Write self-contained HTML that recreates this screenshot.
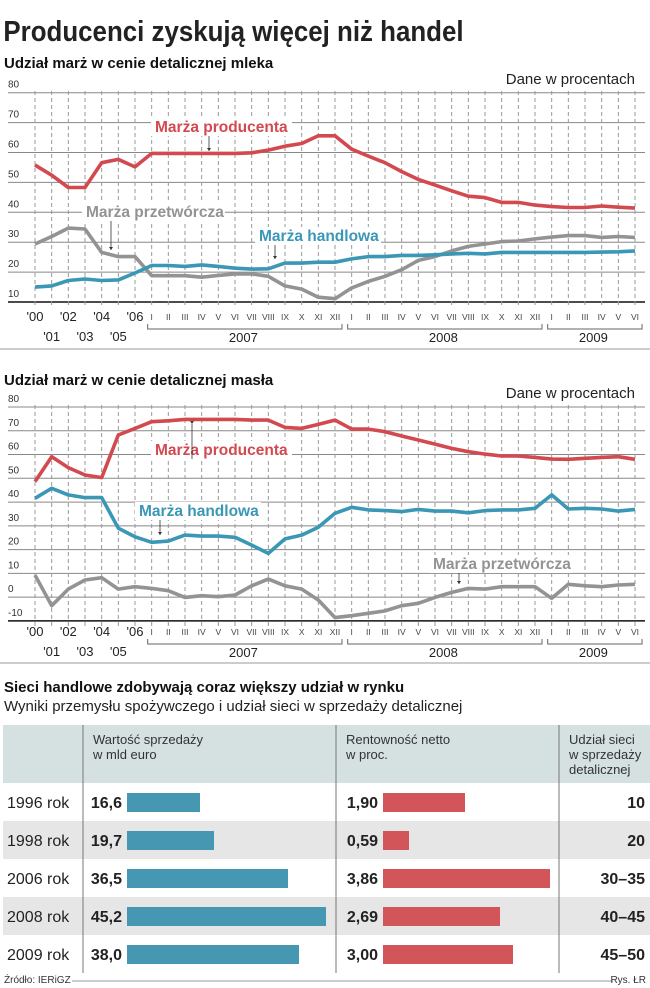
<!DOCTYPE html>
<html><head><meta charset="utf-8">
<style>
html,body{margin:0;padding:0;background:#fff;}
svg{display:block;font-family:"Liberation Sans",sans-serif;}
</style></head>
<body>
<svg id="s" width="650" height="988" viewBox="0 0 650 988" xmlns="http://www.w3.org/2000/svg">
<text x="4" y="41" font-size="29" font-weight="bold" fill="#222" transform="scale(0.86,1)" textLength="535" lengthAdjust="spacingAndGlyphs">Producenci zyskują więcej niż handel</text>
<text x="4" y="68" font-size="15" font-weight="bold" fill="#111">Udział marż w cenie detalicznej mleka</text>
<text x="635" y="84" font-size="15" fill="#222" text-anchor="end">Dane w procentach</text>
<g id="c1"></g>
<rect x="0" y="348" width="650" height="2" fill="#ccc"/>
<text x="4" y="385" font-size="15" font-weight="bold" fill="#111">Udział marż w cenie detalicznej masła</text>
<text x="635" y="398" font-size="15" fill="#222" text-anchor="end">Dane w procentach</text>
<g id="c2"></g>
<rect x="0" y="662" width="650" height="2" fill="#ccc"/>
<text x="4" y="692" font-size="15" font-weight="bold" fill="#111">Sieci handlowe zdobywają coraz większy udział w rynku</text>
<text x="4" y="711" font-size="15" fill="#222">Wyniki przemysłu spożywczego i udział sieci w sprzedaży detalicznej</text>
<rect x="3" y="725" width="647" height="58" fill="#d5e0e1"/>
<rect x="3" y="821" width="647" height="38" fill="#e6e6e6"/>
<rect x="3" y="897" width="647" height="38" fill="#e6e6e6"/>
<line x1="83" y1="725" x2="83" y2="973" stroke="#777" stroke-width="1"/>
<line x1="336" y1="725" x2="336" y2="973" stroke="#777" stroke-width="1"/>
<line x1="559" y1="725" x2="559" y2="973" stroke="#777" stroke-width="1"/>
<g font-size="13" fill="#333">
<text x="93" y="744">Wartość sprzedaży</text><text x="93" y="759">w mld euro</text>
<text x="346" y="744">Rentowność netto</text><text x="346" y="759">w proc.</text>
<text x="569" y="744">Udział sieci</text><text x="569" y="759">w sprzedaży</text><text x="569" y="774">detalicznej</text>
</g>
<g id="tb"></g>
<text x="4" y="983" font-size="10" fill="#333">Źródło: IERiGZ</text>
<line x1="72" y1="981" x2="613" y2="981" stroke="#999" stroke-width="1"/>
<text x="646" y="983" font-size="10" fill="#333" text-anchor="end">Rys. ŁR</text>
</svg>
<script>
var NS="http://www.w3.org/2000/svg";
function el(p,t,a,txt){var e=document.createElementNS(NS,t);for(var k in a)e.setAttribute(k,a[k]);if(txt!==undefined)e.textContent=txt;p.appendChild(e);return e;}
var X=function(i){return 35+i*16.667;};
var R=["I","II","III","IV","V","VI","VII","VIII","IX","X","XI","XII"];
function chart(g,top,base,vmin,vmax,ticks,fy,series,labels,axY){
  // horizontal grid
  ticks.forEach(function(v){var y=fy(v);
    el(g,"line",{x1:8,x2:645,y1:y,y2:y,stroke:v===vmin?"#111":"#888","stroke-width":v===vmin?1.5:1});
    el(g,"text",{x:8,y:y-5,"font-size":10,fill:"#333"},String(v));
  });
  for(var i=0;i<37;i++){el(g,"line",{x1:X(i),x2:X(i),y1:top-2,y2:base+6,stroke:"#999","stroke-width":1,"stroke-dasharray":"4,3"});}
  // labels backgrounds + text
  labels.forEach(function(l){
    el(g,"rect",{x:l.x-4,y:l.y-14,width:l.w+8,height:18,fill:"#fff"});
    el(g,"text",{x:l.x,y:l.y,"font-size":15.5,"font-weight":"bold",fill:l.c},l.t);
    if(l.ax!==undefined){el(g,"line",{x1:l.ax,x2:l.ax,y1:l.y+4,y2:l.ay,stroke:"#333","stroke-width":0.8});el(g,"path",{d:"M"+(l.ax-2)+" "+(l.ay-3)+"L"+(l.ax+2)+" "+(l.ay-3)+"L"+l.ax+" "+l.ay+"Z",fill:"#333"});}
  });
  series.forEach(function(s){
    var pts=s.d.map(function(v,i){return X(i).toFixed(1)+","+fy(v).toFixed(1);}).join(" ");
    el(g,"polyline",{points:pts,fill:"none",stroke:s.c,"stroke-width":3.6,"stroke-linejoin":"round"});
  });
  // x axis labels
  var yl=["'00","'01","'02","'03","'04","'05","'06"];
  for(var i=0;i<7;i++){el(g,"text",{x:X(i),y:axY+(i%2?20:0),"font-size":13,fill:"#222","text-anchor":"middle"},yl[i]);}
  for(var i=0;i<30;i++){el(g,"text",{x:X(7+i),y:axY-1,"font-size":8.5,fill:"#444","text-anchor":"middle"},R[i%12]);}
  [[7,18,"2007"],[19,30,"2008"],[31,36,"2009"]].forEach(function(b){
    var x1=X(b[0])-4,x2=X(b[1])+7,y=axY+8;
    el(g,"path",{d:"M"+x1+" "+(y-5)+"V"+y+"H"+x2+"V"+(y-5),fill:"none",stroke:"#666","stroke-width":1});
    el(g,"text",{x:(X(b[0])+X(b[1]))/2,y:axY+21,"font-size":13,fill:"#222","text-anchor":"middle"},b[2]);
  });
}
var RED="#d24a4f",BLUE="#3a97b5",GRAY="#939393";
var f1=function(v){return 302-(v-10)*2.99;};
chart(document.getElementById("c1"),93,302,10,80,[10,20,30,40,50,60,70,80],f1,[
 {c:GRAY,d:[29.4,31.9,34.7,34.4,26.6,25.2,25.2,18.8,18.8,18.8,18.3,18.9,19.4,19.4,18.6,15.4,14.3,11.6,11.1,14.7,16.9,18.6,20.8,23.9,25.2,27.1,28.6,29.4,30.2,30.4,31.1,31.7,32.2,32.2,31.6,31.9,31.6]},
 {c:BLUE,d:[15,15.4,17.2,17.7,17.2,17.4,19.7,22.2,22.2,21.9,22.4,21.9,21.3,21,21.1,23,23,23.3,23.3,24.4,25.2,25.2,25.6,25.6,25.8,26.1,26.3,26.1,26.6,26.6,26.6,26.6,26.6,26.6,26.7,26.8,27.1]},
 {c:RED,d:[55.8,52.4,48.3,48.3,56.6,57.7,55.2,59.7,59.7,59.7,59.7,59.7,59.7,59.9,60.8,62.1,63,65.6,65.6,61.1,58.8,56.6,53.6,51,49.1,47.2,45.4,44.9,43.3,43.3,42.4,41.9,41.6,41.6,42.1,41.7,41.4]}
],[
 {t:"Marża producenta",x:155,y:132,w:133,c:RED,ax:209,ay:151},
 {t:"Marża przetwórcza",x:86,y:217,w:135,c:GRAY,ax:111,ay:250},
 {t:"Marża handlowa",x:259,y:241,w:118,c:BLUE,ax:275,ay:259}
],321);
var f2=function(v){return 407+(80-v)*2.377;};
chart(document.getElementById("c2"),407,621,-10,80,[-10,0,10,20,30,40,50,60,70,80],f2,[
 {c:GRAY,d:[9.3,-3.6,3.4,7.2,8.2,3.4,4.4,3.7,2.7,-0.1,0.6,0.2,0.9,4.8,7.6,4.8,3.4,-1.2,-8.6,-7.8,-6.8,-5.8,-3.6,-2.6,-0.1,2,3.7,3.4,4.4,4.4,4.4,-0.5,5.4,4.8,4.4,5.1,5.4]},
 {c:BLUE,d:[41.6,45.8,43,41.9,41.9,29,25.4,23.1,23.6,26.1,25.7,25.7,25.2,21.9,18.4,24.5,26.1,29.4,35.3,37.8,36.7,36.4,36,36.9,36.2,36.2,35.5,36.4,36.7,36.7,37.4,43,37.1,37.4,37.1,36.2,36.9]},
 {c:RED,d:[48.6,59.1,54.5,51.4,50.3,68.2,71,73.8,74.2,74.8,74.8,74.8,74.8,74.5,74.5,71.4,71,72.7,74.5,70.7,70.7,69.6,67.8,66.1,64.4,62.6,61.2,60.2,59.4,59.4,58.8,58.1,58,58.4,58.8,59.1,58]}
],[
 {t:"Marża producenta",x:155,y:455,w:133,c:RED,ax:192,ay:424},
 {t:"Marża handlowa",x:139,y:516,w:118,c:BLUE,ax:160,ay:535},
 {t:"Marża przetwórcza",x:433,y:569,w:135,c:GRAY,ax:459,ay:584}
],636);
// fix arrows pointing up in chart2 producer
var tb=document.getElementById("tb");
var rows=[["1996 rok","16,6",200,"1,90",465,"10"],["1998 rok","19,7",214,"0,59",409,"20"],["2006 rok","36,5",288,"3,86",550,"30–35"],["2008 rok","45,2",326,"2,69",500,"40–45"],["2009 rok","38,0",299,"3,00",513,"45–50"]];
rows.forEach(function(r,i){var yc=802+i*38;
 el(tb,"text",{x:7,y:yc+6,"font-size":16,fill:"#222"},r[0]);
 el(tb,"text",{x:122,y:yc+6,"font-size":16,"font-weight":"bold",fill:"#222","text-anchor":"end"},r[1]);
 el(tb,"rect",{x:127,y:yc-9,width:r[2]-127,height:19,fill:"#4597b2"});
 el(tb,"text",{x:378,y:yc+6,"font-size":16,"font-weight":"bold",fill:"#222","text-anchor":"end"},r[3]);
 el(tb,"rect",{x:383,y:yc-9,width:r[4]-383,height:19,fill:"#d2555a"});
 el(tb,"text",{x:645,y:yc+6,"font-size":16,"font-weight":"bold",fill:"#222","text-anchor":"end"},r[5]);
});
</script>
</body></html>
